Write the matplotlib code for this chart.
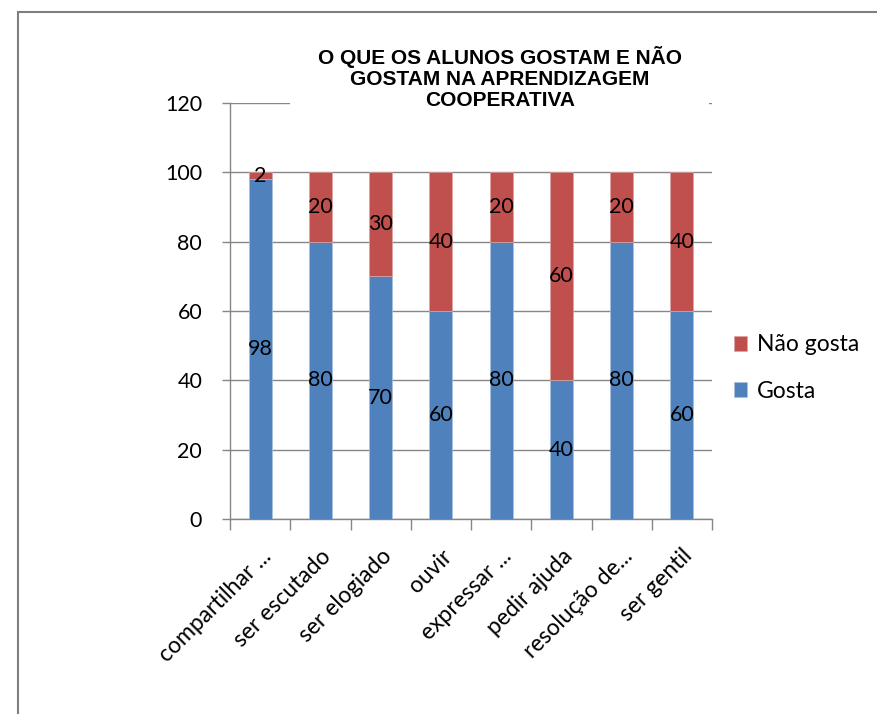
import numpy as np
import matplotlib.pyplot as plt
from matplotlib.patches import Rectangle

categories = ["compartilhar ...", "ser escutado", "ser elogiado", "ouvir",
              "expressar ...", "pedir ajuda", "resolução de...", "ser gentil"]
gosta = [98, 80, 70, 60, 80, 40, 80, 60]
nao_gosta = [2, 20, 30, 40, 20, 60, 20, 40]

title = "O QUE OS ALUNOS GOSTAM E NÃO\nGOSTAM NA APRENDIZAGEM\nCOOPERATIVA"

blue = "#4F81BD"
red = "#C0504D"
grey = "#868686"
font = ["Lato", "DejaVu Sans"]

fig = plt.figure(figsize=(8.77, 7.14), dpi=100)
fig.patches.append(Rectangle((18 / 877, -0.1), 1.2, (714 - 12) / 714 + 0.1,
                             transform=fig.transFigure, fill=False,
                             edgecolor="#7f7f7f", linewidth=1.5))

ax = fig.add_axes([230 / 877, (714 - 519) / 714, (712 - 230) / 877, (519 - 103) / 714])

x = np.arange(len(categories))
b1 = ax.bar(x, gosta, width=0.38, color=blue, edgecolor="#a9c0de", linewidth=0.5,
            label="Gosta", zorder=3)
b2 = ax.bar(x, nao_gosta, width=0.38, bottom=gosta, color=red, edgecolor="#dba5a3",
            linewidth=0.5, label="Não gosta", zorder=3)

for rect, v in zip(b1, gosta):
    ax.text(rect.get_x() + rect.get_width() / 2, rect.get_y() + v / 2, str(v),
            ha="center", va="center", fontsize=15.5, family=font, zorder=4)
for rect, v, g in zip(b2, nao_gosta, gosta):
    ax.text(rect.get_x() + rect.get_width() / 2, g + v / 2, str(v),
            ha="center", va="center", fontsize=15.5, family=font, zorder=4)

ax.set_xlim(-0.5, len(categories) - 0.5)
ax.set_ylim(0, 120)
ax.set_yticks(range(0, 121, 20))
ax.yaxis.grid(True, color=grey, linewidth=1, zorder=0)
ax.set_axisbelow(True)

for s in ["top", "right"]:
    ax.spines[s].set_visible(False)
for s in ["left", "bottom"]:
    ax.spines[s].set_color(grey)
    ax.spines[s].set_linewidth(1)

ax.set_xticks(x)
ax.set_xticklabels(categories, rotation=45, ha="right", rotation_mode="anchor",
                   fontsize=16.5, family=font)
ax.tick_params(axis="x", which="major", length=0, pad=19)
ax.set_xticks(np.arange(-0.5, len(categories)), minor=True)
ax.tick_params(axis="x", which="minor", length=8, color=grey, width=1)
ax.tick_params(axis="y", length=6, color=grey, width=1, labelsize=15.5, pad=14)
for lbl in ax.get_yticklabels():
    lbl.set_family(font)

# white title box hiding the top gridline, like the Excel chart title
ax.add_patch(Rectangle((290 / 877, (714 - 112) / 714), (709 - 290) / 877, 72 / 714,
                       transform=fig.transFigure, facecolor="white",
                       edgecolor="none", clip_on=False, zorder=5))
fig.text(500 / 877, (714 - 78) / 714, title, ha="center", va="center",
         fontsize=15, fontweight="bold", family=["Liberation Sans", "DejaVu Sans"],
         linespacing=1.15)

handles = [b2, b1]
leg = fig.legend(handles, ["Não gosta", "Gosta"], loc="center left",
                 bbox_to_anchor=(713 / 877, (714 - 368) / 714), frameon=False,
                 prop={"family": font, "size": 16.5}, handlelength=0.6,
                 handleheight=0.6, handletextpad=0.4, labelspacing=1.1)

fig.savefig("out.png", dpi=100)
